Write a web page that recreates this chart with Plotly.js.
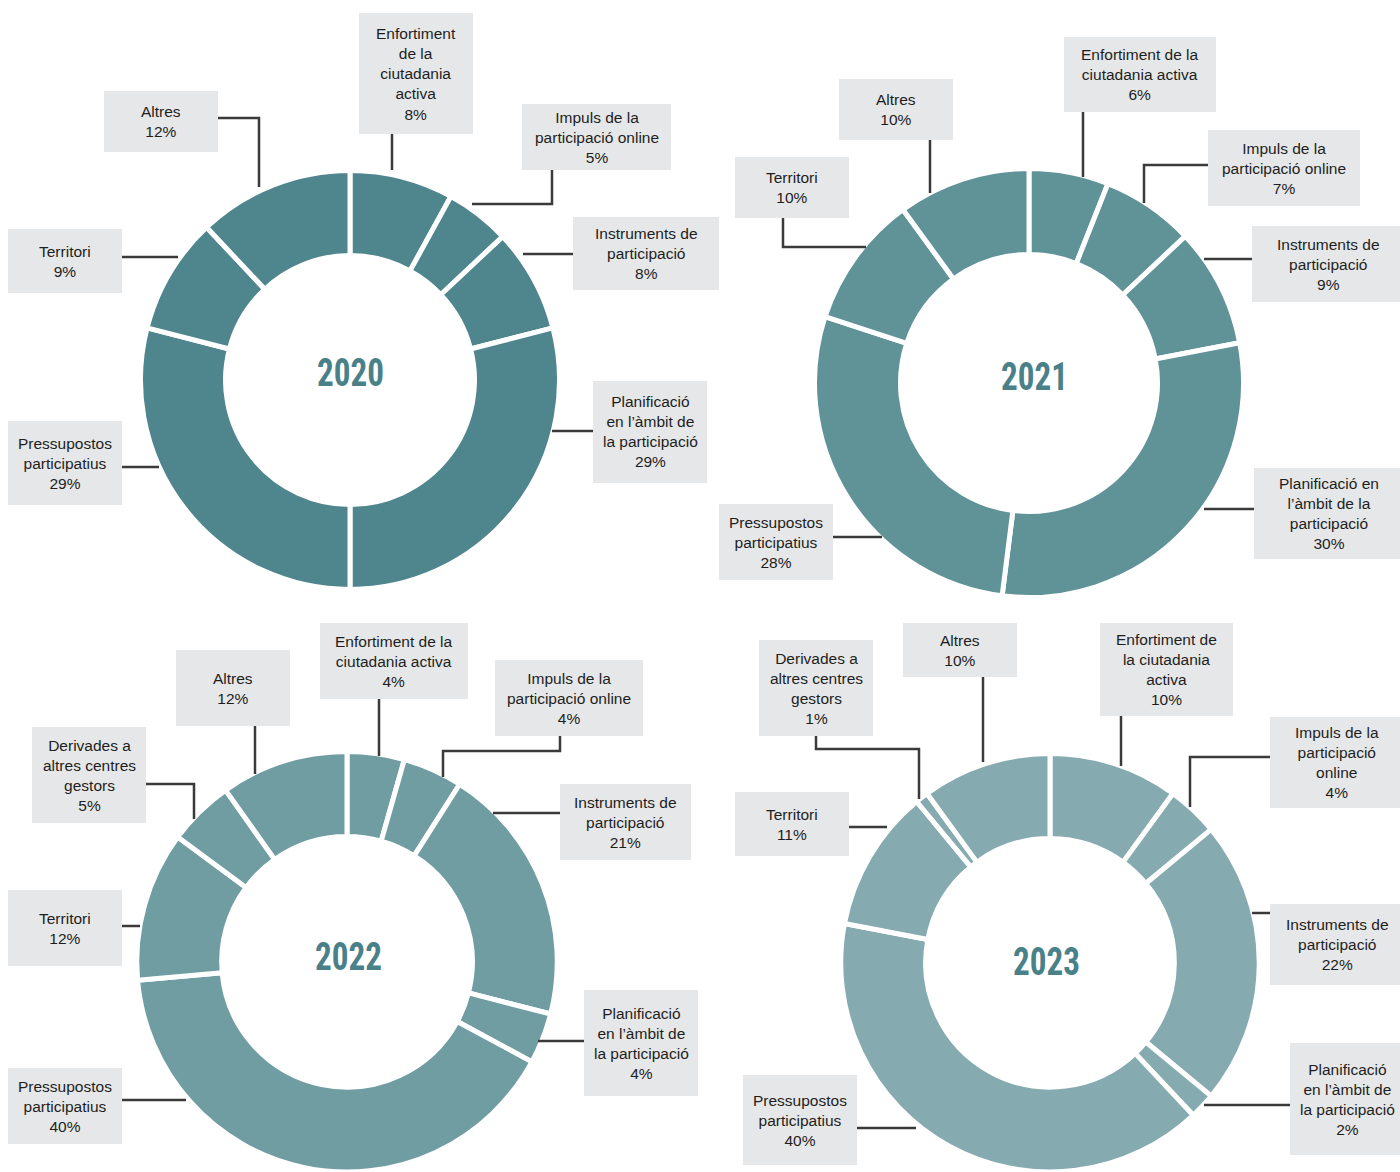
<!DOCTYPE html>
<html>
<head>
<meta charset="utf-8">
<script src="https://cdn.plot.ly/plotly-3.0.1.min.js"></script>
<style>
html,body{margin:0;padding:0;background:#fff;overflow:hidden;}
#chart{width:1400px;height:1172px;}
</style>
</head>
<body>
<div id="chart"></div>
<script>
// ---------- DATA ----------
const years = ['2020', '2021', '2022', '2023'];

const categories2020 = ['Enfortiment de la ciutadania activa', 'Impuls de la participació online', 'Instruments de participació', 'Planificació en l’àmbit de la participació', 'Pressupostos participatius', 'Territori', 'Altres'];
const values2020 = [8, 5, 8, 29, 29, 9, 12];
const pct2020 = [8, 5, 8, 29, 29, 9, 12];
const boxText2020 = ['Enfortiment<br>de la<br>ciutadania<br>activa', 'Impuls de la<br>participació online', 'Instruments de<br>participació', 'Planificació<br>en l’àmbit de<br>la participació', 'Pressupostos<br>participatius', 'Territori', 'Altres'];

const categories2021 = ['Enfortiment de la ciutadania activa', 'Impuls de la participació online', 'Instruments de participació', 'Planificació en l’àmbit de la participació', 'Pressupostos participatius', 'Territori', 'Altres'];
const values2021 = [6, 7, 9, 30, 28, 10, 10];
const pct2021 = [6, 7, 9, 30, 28, 10, 10];
const boxText2021 = ['Enfortiment de la<br>ciutadania activa', 'Impuls de la<br>participació online', 'Instruments de<br>participació', 'Planificació en<br>l’àmbit de la<br>participació', 'Pressupostos<br>participatius', 'Territori', 'Altres'];

const categories2022 = ['Enfortiment de la ciutadania activa', 'Impuls de la participació online', 'Instruments de participació', 'Planificació en l’àmbit de la participació', 'Pressupostos participatius', 'Territori', 'Derivades a altres centres gestors', 'Altres'];
// slice sizes as drawn in the ring (the printed percentages are below)
const values2022 = [4.4, 4.6, 20, 3.9, 40.7, 11.5, 5.1, 9.8];
const pct2022 = [4, 4, 21, 4, 40, 12, 5, 12];
const boxText2022 = ['Enfortiment de la<br>ciutadania activa', 'Impuls de la<br>participació online', 'Instruments de<br>participació', 'Planificació<br>en l’àmbit de<br>la participació', 'Pressupostos<br>participatius', 'Territori', 'Derivades a<br>altres centres<br>gestors', 'Altres'];

const categories2023 = ['Enfortiment de la ciutadania activa', 'Impuls de la participació online', 'Instruments de participació', 'Planificació en l’àmbit de la participació', 'Pressupostos participatius', 'Territori', 'Derivades a altres centres gestors', 'Altres'];
const values2023 = [10, 4, 22, 2, 40, 11, 1, 10];
const pct2023 = [10, 4, 22, 2, 40, 11, 1, 10];
const boxText2023 = ['Enfortiment de<br>la ciutadania<br>activa', 'Impuls de la<br>participació<br>online', 'Instruments de<br>participació', 'Planificació<br>en l’àmbit de<br>la participació', 'Pressupostos<br>participatius', 'Territori', 'Derivades a<br>altres centres<br>gestors', 'Altres'];

// ---------- LAYOUT / STYLE ----------
const W = 1400, H = 1172;
const GAP = 5;
const BOX_FILL = '#e6e7e8';
const LINE_COL = '#3a3a3a';
const YEAR_COL = '#4a8189';
const YEAR_TARGET_W = 67;

const charts = [
  {year: years[0], cats: categories2020, vals: values2020, pct: pct2020, txt: boxText2020, color: '#4f858d',
   cx: 350, cy: 380, rOut: 207, rIn: 127, yearX: 350, yearY: 373,
   boxes: [[359,13,473,134],[522,104,671,170],[573,217,719,290],[593,381,707,483],[8,421,122,505],[8,229,122,293],[104,91,218,152]],
   leaders: [[[392,134],[392,170]], [[552,170],[552,204],[472,204]], [[573,254],[523,254]], [[593,431],[552,431]], [[122,467],[159,467]], [[122,257],[178,257]], [[218,118],[259,118],[259,187]]]},
  {year: years[1], cats: categories2021, vals: values2021, pct: pct2021, txt: boxText2021, color: '#5f9398',
   cx: 1029, cy: 383, rOut: 212, rIn: 131, yearX: 1034, yearY: 377,
   boxes: [[1064,37,1216,112],[1208,130,1360,206],[1252,226,1404,302],[1254,468,1404,559],[719,504,833,580],[735,157,849,218],[839,79,953,140]],
   leaders: [[[1083,112],[1083,177]], [[1208,165],[1144,165],[1144,203]], [[1252,259],[1204,259]], [[1254,509],[1204,509]], [[833,537],[882,537]], [[783,218],[783,247],[866,247]], [[930,140],[930,193]]]},
  {year: years[2], cats: categories2022, vals: values2022, pct: pct2022, txt: boxText2022, color: '#709da2',
   cx: 347, cy: 962, rOut: 208, rIn: 128, yearX: 348, yearY: 957,
   boxes: [[320,623,468,699],[495,660,643,736],[560,784,691,860],[584,990,698,1096],[8,1068,122,1144],[8,890,122,966],[32,727,146,823],[176,650,290,726]],
   leaders: [[[379,699],[379,756]], [[560,736],[560,751],[443,751],[443,777]], [[560,813],[493,813]], [[584,1041],[538,1041]], [[122,1100],[186,1100]], [[122,926],[140,926]], [[146,784],[194,784],[194,819]], [[255,726],[255,774]]]},
  {year: years[3], cats: categories2023, vals: values2023, pct: pct2023, txt: boxText2023, color: '#85aab0',
   cx: 1050, cy: 963, rOut: 207, rIn: 127, yearX: 1046, yearY: 962,
   boxes: [[1100,623,1233,716],[1270,717,1404,808],[1270,904,1404,985],[1290,1043,1404,1155],[743,1075,857,1165],[735,792,849,856],[759,640,873,736],[903,623,1017,677]],
   leaders: [[[1121,716],[1121,766]], [[1270,757],[1190,757],[1190,807]], [[1270,913],[1252,913]], [[1290,1105],[1204,1105]], [[857,1128],[916,1128]], [[849,827],[887,827]], [[816,736],[816,749],[919,749],[919,799]], [[983,677],[983,762]]]}
];

const fx = x => x / W;
const fy = y => 1 - y / H;

const traces = [];
const annotations = [];
const shapes = [];

charts.forEach(c => {
  const R = c.rOut + GAP / 2;
  const rInner = c.rIn - GAP / 2;
  let y0 = fy(c.cy + R), y1 = fy(c.cy - R);
  if (y0 < 0) { y0 = 0; }
  traces.push({
    type: 'pie',
    labels: c.cats,
    values: c.vals,
    sort: false,
    direction: 'clockwise',
    rotation: 0,
    hole: rInner / R,
    textinfo: 'none',
    hoverinfo: 'label',
    marker: {colors: c.cats.map(() => c.color), line: {color: '#ffffff', width: GAP}},
    domain: {x: [fx(c.cx - R), fx(c.cx + R)], y: [y0, y1]},
    showlegend: false
  });
  annotations.push({
    xref: 'paper', yref: 'paper', x: fx(c.yearX), y: fy(c.yearY),
    xanchor: 'center', yanchor: 'middle', showarrow: false,
    text: '<b>' + c.year + '</b>',
    font: {family: '"Roboto Condensed", "Liberation Sans Narrow", "DejaVu Sans Condensed", "Arial Narrow", Roboto, sans-serif', size: 38, color: YEAR_COL}
  });
  c.boxes.forEach((b, i) => {
    const [x0, by0, x1, by1] = b;
    shapes.push({type: 'rect', xref: 'paper', yref: 'paper', x0: fx(x0), x1: fx(x1), y0: fy(by1), y1: fy(by0),
      fillcolor: BOX_FILL, line: {width: 0}, layer: 'below'});
    annotations.push({
      xref: 'paper', yref: 'paper', x: fx((x0 + x1) / 2), y: fy((by0 + by1) / 2),
      xanchor: 'center', yanchor: 'middle', showarrow: false, align: 'center',
      text: c.txt[i] + '<br>' + c.pct[i] + '%',
      font: {family: '"Liberation Sans", Arial, sans-serif', size: 15.5, color: '#1e1e1e'}
    });
    const pts = c.leaders[i];
    let path = 'M ' + fx(pts[0][0]) + ' ' + fy(pts[0][1]);
    for (let k = 1; k < pts.length; k++) path += ' L ' + fx(pts[k][0]) + ' ' + fy(pts[k][1]);
    shapes.push({type: 'path', xref: 'paper', yref: 'paper', path: path, line: {color: LINE_COL, width: 2.5}});
  });
});

const layout = {
  width: W, height: H,
  margin: {l: 0, r: 0, t: 0, b: 0, pad: 0},
  paper_bgcolor: '#ffffff', plot_bgcolor: '#ffffff',
  showlegend: false,
  annotations: annotations,
  shapes: shapes,
  font: {family: '"Liberation Sans", Arial, sans-serif'}
};

Plotly.newPlot('chart', traces, layout, {displayModeBar: false, staticPlot: true}).then(gd => {
  // condense the year labels horizontally if no narrow face was available
  gd.querySelectorAll('text.annotation-text').forEach(t => {
    if (!/^20\d\d$/.test(t.textContent.trim())) return;
    const bb = t.getBBox();
    if (bb.width > YEAR_TARGET_W + 3) {
      const s = YEAR_TARGET_W / bb.width;
      const cx = bb.x + bb.width / 2;
      const prev = t.getAttribute('transform') || '';
      t.setAttribute('transform', prev + ' translate(' + cx + ',0) scale(' + s + ',1) translate(' + (-cx) + ',0)');
    }
  });
});
</script>
</body>
</html>
